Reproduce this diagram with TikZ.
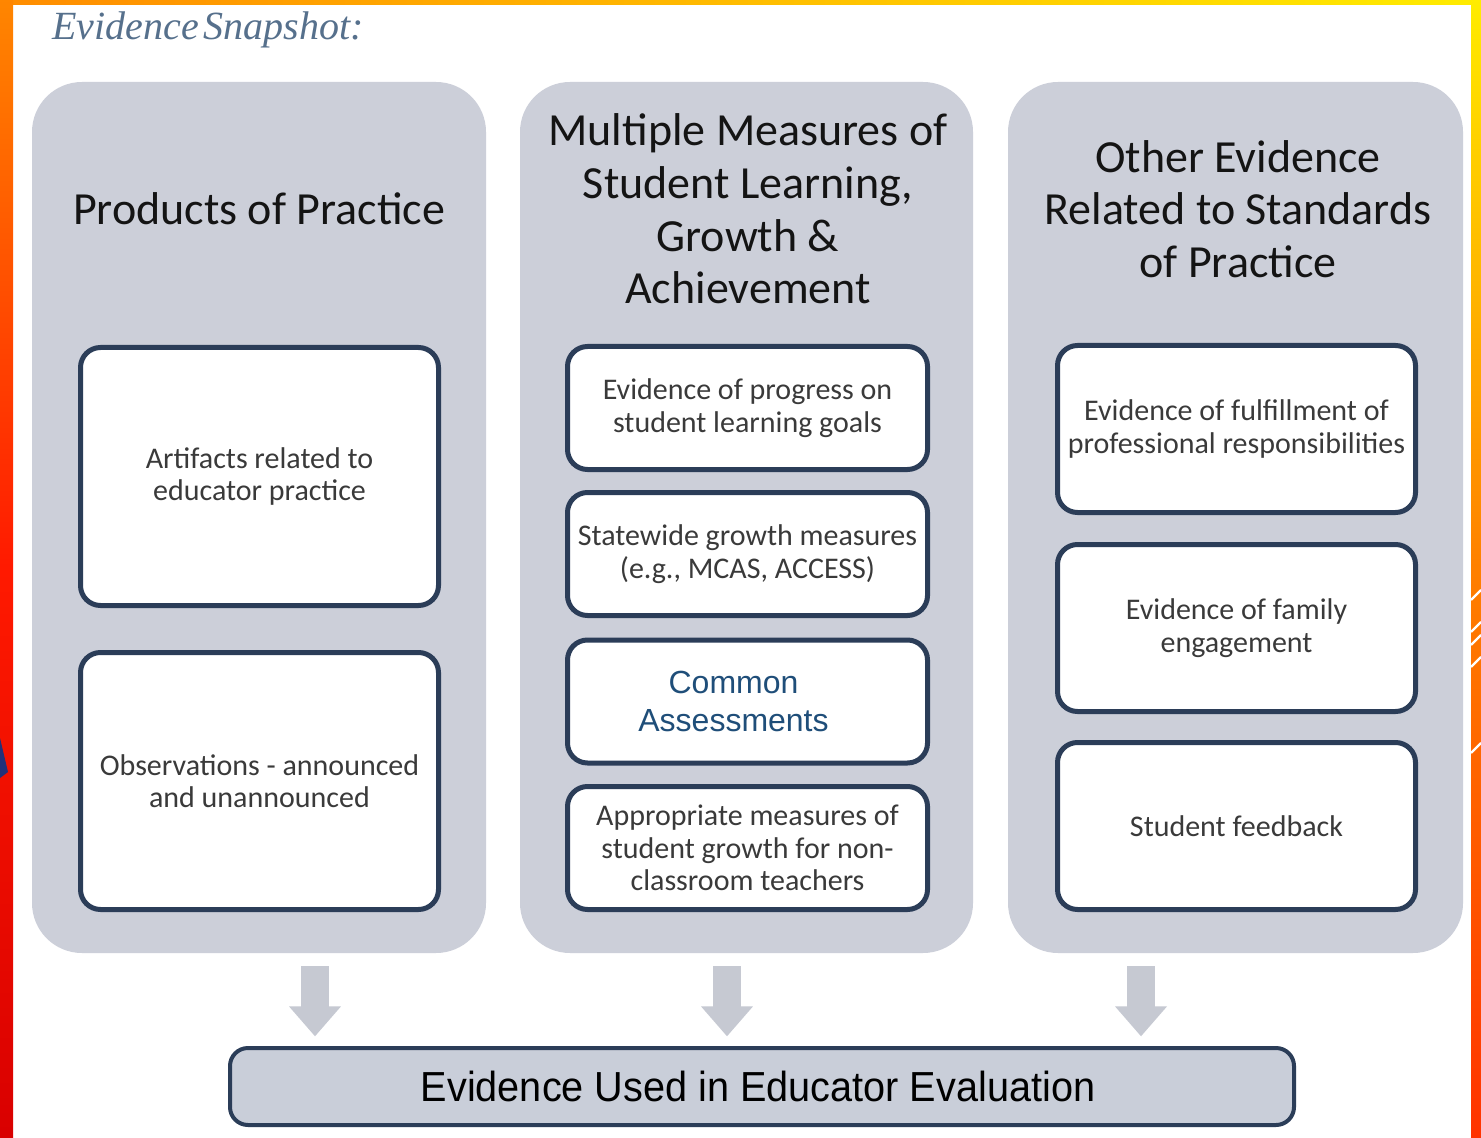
\documentclass[tikz,border=0pt]{standalone}
\usepackage{fontspec}
\setmainfont{Carlito}
\newfontfamily\arialf{Liberation Sans}
\newfontfamily\titlef{Liberation Serif}
\usetikzlibrary{arrows.meta,calc}
\definecolor{colgrey}{HTML}{CCCFD9}
\definecolor{navy}{HTML}{2B3D58}
\definecolor{innertext}{HTML}{3A3A3A}
\definecolor{commonblue}{HTML}{1F4E79}
\definecolor{titleblue}{HTML}{56708C}
\definecolor{arrowgrey}{HTML}{C6C9D2}
\definecolor{bottomfill}{HTML}{C9CED9}
\tikzset{
  colbox/.style={draw=none, fill=colgrey, rounded corners=25pt, inner sep=0pt},
  header/.style={align=center, text=black!92, font=\fontsize{23}{26.3}\selectfont},
  ibox/.style={draw=navy, line width=2.5pt, fill=white, rounded corners=10pt, inner sep=0pt,
     align=center, text=innertext, font=\fontsize{15}{16.2}\selectfont, minimum width=179pt},
  garrow/.style={draw=arrowgrey, line width=14pt, -{Triangle[width=25pt,length=15pt]}},
}
\begin{document}
\begin{tikzpicture}[x=0.5pt,y=-0.5pt]
\useasboundingbox (0,0) rectangle (1481,1138);
% frame
\fill[white] (0,0) rectangle (1481,1138);
\shade[left color=orange!90!yellow, right color=yellow!85!orange] (0,0) rectangle (1481,5);
\shade[top color=orange!95!yellow, bottom color=red!85!black, middle color=red!80!orange] (0,0) rectangle (13,1138);
\shade[top color=yellow!85!orange, bottom color=red!60!orange, middle color=orange] (1471,0) rectangle (1481,1138);
\fill[navy!80!blue] (0,738) -- (8,772) -- (0,778) -- cycle;
\foreach \ya in {600,632,645,667,753}
  \draw[white, line width=1.2pt] (1471,\ya) -- (1481,\ya-10);
% title
\node[anchor=base west, inner sep=0pt, text=titleblue, font=\titlef\itshape\fontsize{20}{24}\selectfont] (title) at (52,40) {Evidence\hspace{0.12em}Snapshot:};
% columns
\node[colbox, minimum width=227pt, minimum height=435.5pt] (c1) at (259,517.5) {};
\node[colbox, minimum width=226.5pt, minimum height=435.5pt] (c2) at (746.5,517.5) {};
\node[colbox, minimum width=227.5pt, minimum height=435.5pt] (c3) at (1235.5,517.5) {};
% headers
\node[header] (h1) at (259,209) {Products of Practice};
\node[header] (h2) at (748,209) {Multiple Measures of\\Student Learning,\\Growth \&\\Achievement};
\node[header] (h3) at (1238,209) {Other Evidence\\Related to Standards\\of Practice};
% column 1 boxes
\node[ibox, minimum height=129pt] (a1) at (259.5,476.5) {Artifacts related to\\educator practice};
\node[ibox, minimum height=128.5pt] (a2) at (259.5,781) {Observations - announced\\and unannounced};
% column 2 boxes
\node[ibox, minimum width=180pt, minimum height=61.5pt] (b1) at (747.5,408) {Evidence of progress on\\student learning goals};
\node[ibox, minimum width=180pt, minimum height=61.5pt] (b2) at (747.5,554) {Statewide growth measures\\(e.g., MCAS, ACCESS)};
\node[ibox, minimum width=180pt, minimum height=61.5pt, text=commonblue, font=\arialf\fontsize{16}{19}\selectfont, text width=170pt] (b3) at (747.5,701.5) {\hspace*{-14pt}Common\\\hspace*{-14pt}Assessments};
\node[ibox, minimum width=180pt, minimum height=61.5pt] (b4) at (747.5,848) {Appropriate measures of\\student growth for non-\\classroom teachers};
% column 3 boxes
\node[ibox, minimum height=83.5pt] (d1) at (1236.5,429) {Evidence of fulfillment of\\professional responsibilities};
\node[ibox, minimum height=83.5pt] (d2) at (1236.5,628) {Evidence of family\\engagement};
\node[ibox, minimum height=83.5pt] (d3) at (1236.5,826) {Student feedback};
% bottom box
\node[draw=navy, line width=2pt, fill=bottomfill, rounded corners=9pt, minimum width=532pt, minimum height=38.5pt, inner sep=0pt, font=\arialf\fontsize{21}{24}\selectfont] (ev) at (762,1086.5) {\hspace*{-4pt}\scalebox{0.944}[1]{Evidence Used in Educator Evaluation}};
% arrows
\draw[garrow] ($(c1.south)+(56,13)$) -- ($(c1.south)+(56,83)$);
\draw[garrow] ($(c2.south)+(-19.5,13)$) -- ($(c2.south)+(-19.5,83)$);
\draw[garrow] ($(c3.south)+(-94.5,13)$) -- ($(c3.south)+(-94.5,83)$);
\end{tikzpicture}
\end{document}
